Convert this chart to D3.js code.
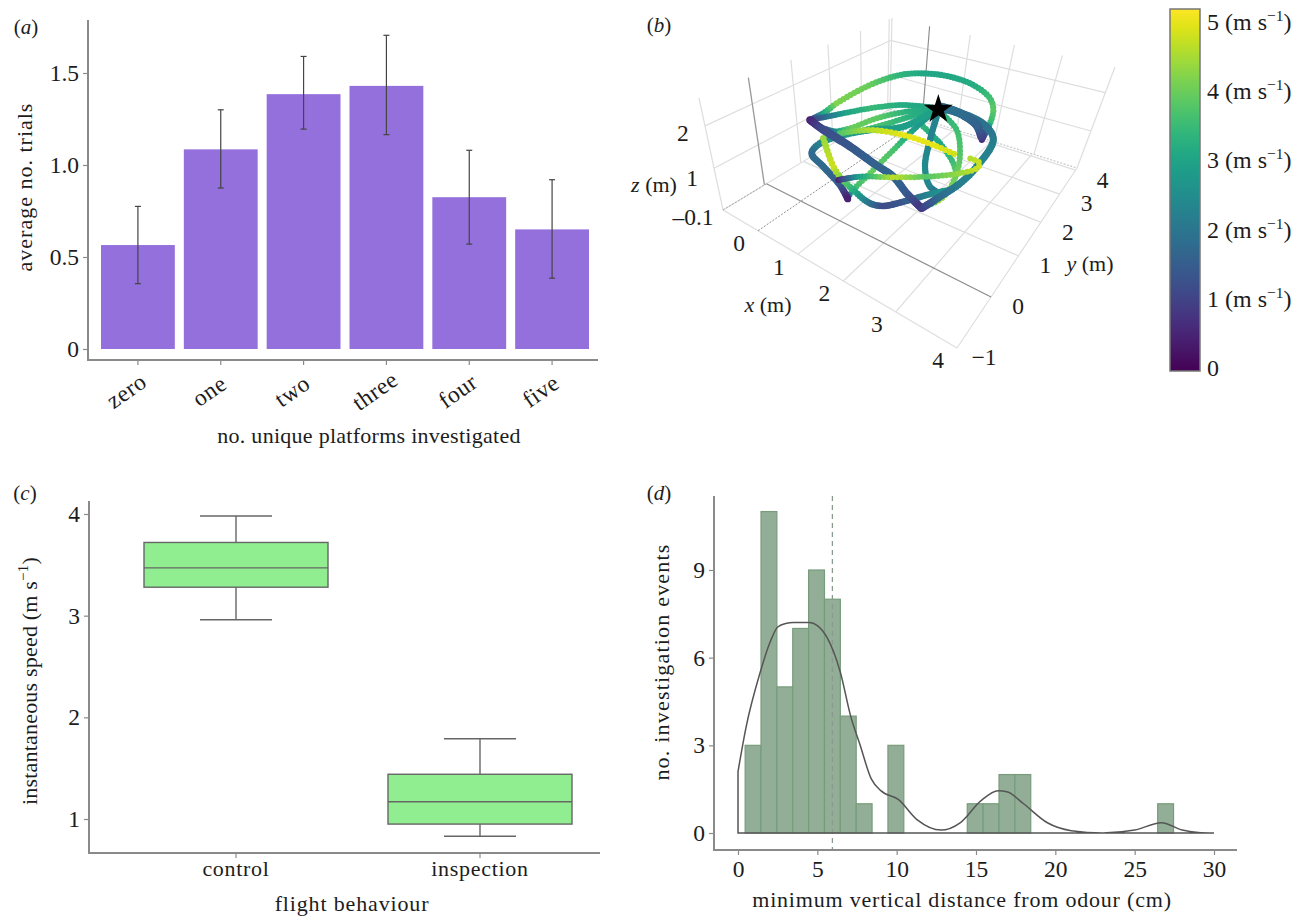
<!DOCTYPE html>
<html><head><meta charset="utf-8">
<script src="https://cdn.jsdelivr.net/npm/d3@7"></script>
<style>
html,body{margin:0;padding:0;background:#fff}
svg{display:block}
text{font-family:"Liberation Serif","Times New Roman",serif;fill:#1c1c1c}
</style></head><body>
<svg id="c" width="1296" height="916"></svg>
<script>
// ---------- data ----------
const platformCats = ["zero","one","two","three","four","five"];
const platformMeans = [0.565,1.085,1.385,1.43,0.825,0.65];
const platformLow = [0.355,0.875,1.195,1.165,0.57,0.385];
const platformHigh = [0.775,1.30,1.59,1.705,1.08,0.92];
const platformTicks = [0,0.5,1.0,1.5];

const flightCats = ["control","inspection"];
const boxQ1 = [3.28,0.95];
const boxMedian = [3.47,1.17];
const boxQ3 = [3.72,1.44];
const whiskLow = [2.96,0.83];
const whiskHigh = [3.98,1.79];
const flightTicks = [1,2,3,4];

const histStart = [0.45,1.45,2.45,3.45,4.45,5.45,6.45,7.45,9.45,14.45,15.45,16.45,17.45,26.45];
const histCounts = [3,11,5,7,9,8,4,1,3,1,1,2,2,1];
const histWidth = 1;
const kdeX = [0,0,0.5,1.4,2.0,2.5,3.0,3.5,4.5,5.0,5.6,6.45,7.1,7.7,8.4,9.0,10.1,11.3,12.8,14,15.3,16.4,17.0,18,19.5,21,23,25,26.7,28,29,30];
const kdeY = [0,2.1,3.6,5.5,6.5,7.05,7.17,7.2,7.2,7.1,6.7,5.5,4.0,3.0,1.85,1.45,1.15,0.45,0.1,0.35,1.1,1.45,1.4,1.0,0.35,0.08,0.0,0.1,0.35,0.1,0.02,0];
const meanDistance = 5.95;
const distTicksX = [0,5,10,15,20,25,30];
const distTicksY = [0,3,6,9];

const xTicks3d = [0,1,2,3,4];
const yTicks3d = [-1,0,1,2,3,4];
const zTicks3d = [-0.1,1,2];
const speedTicks = [0,1,2,3,4,5];

// trajectory strands in view-plane coordinates [u, v, speed]
const strandTop = [[1.5,1.8,.3],[1.9,1.6,3],[2.3,1.3,4.2],[3.3,.75,4.0],[4.2,.45,3.4],[4.9,.4,3.1],[5.7,.5,3.1],[6.4,.75,3.2],[6.9,1.15,3.6],[7.0,1.5,3.9],[6.9,1.9,3.5],[6.65,2.4,.6]];
const strandLeftA = [[5.35,1.45,3],[4.3,1.35,3.2],[3.3,1.45,3.5],[2.5,1.6,3],[1.5,1.8,1]];
const strandLeftB = [[5.35,1.45,3],[4.4,1.55,3.3],[3.5,1.75,3.9],[2.7,2.05,4],[2.0,2.2,2.5]];
const strandLeftC = [[5.35,1.45,3],[4.5,1.7,3.3],[3.5,2.0,3.7],[2.6,2.2,3.5],[1.9,2.05,1.5]];
const strandBlueA = [[1.5,1.8,.5],[1.9,2.1,1.2],[2.7,2.6,1.4],[3.4,3.1,1.6],[4.0,3.5,1.7],[4.4,4.0,1.5],[4.85,4.45,.8]];
const strandBlueB = [[1.8,2.0,1.3],[2.6,2.5,1.3],[3.3,3.0,1.4],[3.9,3.45,1.6]];
const strandRise = [[4.85,4.45,.9],[5.4,4.1,1.8],[6.0,3.7,2.2],[6.5,3.2,2.4],[7.0,2.4,2.2],[6.8,2.0,2.0],[6.2,1.65,1.9],[5.35,1.45,2]];
const strandThick = [[6.65,2.3,1.0],[6.5,1.95,1.6],[6.0,1.6,1.8],[5.4,1.4,2.0]];
const strandCorner = [[5.35,1.45,3],[4.3,2.0,2.9],[3.3,2.1,2.8],[2.5,2.25,2.8],[1.8,2.5,2.4],[1.55,2.8,1.8],[1.9,3.2,1.8],[2.4,3.75,1.5],[2.65,4.2,.4]];
const strandYellow = [[2.4,2.2,3.8],[3.3,2.1,4.6],[4.3,2.25,5],[5.2,2.55,5],[5.9,2.85,4.8]];
const strandBottom = [[1.9,2.35,4.4],[2.2,3.2,4.8],[2.4,3.5,4.3],[2.85,3.95,3.2],[3.3,4.3,2.0],[3.7,4.38,1.2],[4.3,4.25,1.4],[5.2,4.0,2.5],[5.7,3.9,2.8]];
const strandLower = [[2.35,3.6,.5],[3.0,3.5,3],[4.0,3.52,4.7],[5.0,3.5,3.8],[6.0,3.4,4.4],[6.5,3.25,4.8],[6.6,3.1,4.8],[6.3,2.95,4.6]];
const strandDiag = [[5.35,1.45,2.5],[4.7,2.0,2.8],[4.0,2.7,3.7],[3.3,3.4,4],[2.75,3.95,3.5],[2.6,4.2,.5]];
const strandDown = [[5.3,1.7,2.3],[5.1,2.4,2.3],[4.95,3.2,2.5],[5.1,3.8,2.4],[5.5,4.05,1.4]];
const strandRight = [[5.45,1.6,3.3],[5.9,2.1,3.6],[6.0,2.8,3.8],[5.9,3.4,4.0],[5.6,4.0,4.2],[5.3,4.25,4.5],[4.9,4.4,1]];
const strandInner = [[4.9,2.0,3.4],[5.4,2.5,3.1],[5.8,3.1,3.6],[5.9,3.5,4]];
const starPoint = [5.35,1.45];
const strands = [strandInner,strandRight,strandDiag,strandDown,strandTop,strandLeftA,strandLeftB,strandLeftC,strandCorner,strandBottom,strandYellow,strandBlueB,strandBlueA,strandRise,strandThick,strandLower];
const strandDotRadius = [3,3,3,3.2,3.1,3,3,3,3.4,3.3,3.1,3.2,3.8,3.6,4.4,3];

// ---------- helpers ----------
const svg = d3.select("#c");
const AXIS = "#8a8a8a";
const TICK = 23.5, TITLE = 22;
function label(x,y,t,opts={}){
  const e = svg.append("text").attr("x",x).attr("y",y).attr("font-size",opts.size||TITLE)
    .attr("text-anchor",opts.anchor||"middle").attr("dominant-baseline","middle")
    .attr("font-style",opts.italic?"italic":null).text(t);
  if(opts.spacing) e.attr("letter-spacing",opts.spacing);
  if(opts.rotate!=null) e.attr("transform",`rotate(${opts.rotate} ${x} ${y})`);
  return e;
}
function panel(x,y,l){
  const t = svg.append("text").attr("x",x).attr("y",y).attr("font-size",21).attr("text-anchor","middle").attr("dominant-baseline","middle");
  t.append("tspan").text("(");
  t.append("tspan").attr("font-style","italic").text(l);
  t.append("tspan").text(")");
}
function axisStyle(g){
  g.selectAll(".tick line").attr("stroke",AXIS).attr("stroke-width",1.2);
  g.selectAll(".tick text").attr("font-size",TICK).attr("font-family",'"Liberation Serif",serif').attr("fill","#1c1c1c");
  g.select(".domain").remove();
}

// ---------- panel a ----------
{
  const x = d3.scaleBand().domain(platformCats).range([101,589]).paddingInner(0.1087).paddingOuter(0);
  const y = d3.scaleLinear().domain([0,1.5]).range([349,73]);
  const bottom = 360;
  svg.selectAll(".bar").data(platformCats).join("rect")
    .attr("x",d=>x(d)).attr("width",x.bandwidth())
    .attr("y",(d,i)=>y(platformMeans[i])).attr("height",(d,i)=>y(0)-y(platformMeans[i]))
    .attr("fill","#9370db");
  platformCats.forEach((d,i)=>{
    const c=x(d)+x.bandwidth()/2;
    svg.append("line").attr("x1",c).attr("x2",c).attr("y1",y(platformLow[i])).attr("y2",y(platformHigh[i])).attr("stroke","#444").attr("stroke-width",1.2);
    [platformLow[i],platformHigh[i]].forEach(v=>svg.append("line").attr("x1",c-3).attr("x2",c+3).attr("y1",y(v)).attr("y2",y(v)).attr("stroke","#444").attr("stroke-width",1.2));
  });
  const gy = svg.append("g").attr("transform","translate(88,0)").call(d3.axisLeft(y).tickValues(platformTicks).tickFormat(d=>d===0?"0":d3.format(".1f")(d)).tickSize(5).tickPadding(4));
  axisStyle(gy);
  svg.append("line").attr("x1",88).attr("x2",88).attr("y1",20).attr("y2",bottom+1).attr("stroke",AXIS).attr("stroke-width",2);
  svg.append("line").attr("x1",87).attr("x2",598).attr("y1",bottom).attr("y2",bottom).attr("stroke",AXIS).attr("stroke-width",2);
  platformCats.forEach(c=>{
    const cx = x(c)+x.bandwidth()/2;
    svg.append("line").attr("x1",cx).attr("x2",cx).attr("y1",bottom).attr("y2",bottom+5).attr("stroke",AXIS).attr("stroke-width",1.2);
    label(cx-10,393,c,{rotate:-35,size:23.5,spacing:0.5});
  });
  label(369,438,"no. unique platforms investigated",{spacing:0.27});
  label(27,187,"average no. trials",{rotate:-90,spacing:1});
  panel(26,29,"a");
}

// ---------- panel c ----------
{
  const x = d3.scaleBand().domain(flightCats).range([114,602]);
  const y = d3.scaleLinear().domain([1,4]).range([819,514]);
  const bottom = 853;
  const bw = 184;
  flightCats.forEach((c,i)=>{
    const cx = x(c)+x.bandwidth()/2;
    svg.append("line").attr("x1",cx).attr("x2",cx).attr("y1",y(whiskLow[i])).attr("y2",y(whiskHigh[i])).attr("stroke","#666").attr("stroke-width",1.4);
    [whiskLow[i],whiskHigh[i]].forEach(v=>svg.append("line").attr("x1",cx-36).attr("x2",cx+36).attr("y1",y(v)).attr("y2",y(v)).attr("stroke","#666").attr("stroke-width",1.4));
    svg.append("rect").attr("x",cx-bw/2).attr("width",bw).attr("y",y(boxQ3[i])).attr("height",y(boxQ1[i])-y(boxQ3[i])).attr("fill","#90ee90").attr("stroke","#666").attr("stroke-width",1.4);
    svg.append("line").attr("x1",cx-bw/2).attr("x2",cx+bw/2).attr("y1",y(boxMedian[i])).attr("y2",y(boxMedian[i])).attr("stroke","#666").attr("stroke-width",1.4);
    svg.append("line").attr("x1",cx).attr("x2",cx).attr("y1",bottom).attr("y2",bottom+5).attr("stroke",AXIS).attr("stroke-width",1.2);
    label(cx,871,c,{spacing:0.7,size:22});
  });
  const gy = svg.append("g").attr("transform","translate(89,0)").call(d3.axisLeft(y).tickValues(flightTicks).tickFormat(d3.format("d")).tickSize(5).tickPadding(4));
  axisStyle(gy);
  svg.append("line").attr("x1",89).attr("x2",89).attr("y1",501).attr("y2",bottom+1).attr("stroke",AXIS).attr("stroke-width",2);
  svg.append("line").attr("x1",88).attr("x2",600).attr("y1",bottom).attr("y2",bottom).attr("stroke",AXIS).attr("stroke-width",2);
  label(352,906,"flight behaviour",{spacing:0.85});
  const t = label(32,681,"",{rotate:-90});
  t.attr("letter-spacing",0.2);
  t.append("tspan").text("instantaneous speed (m s");
  t.append("tspan").attr("font-size",15).attr("dy",-7).text("−1");
  t.append("tspan").attr("dy",7).text(")");
  panel(25,495,"c");
}

// ---------- panel d ----------
{
  const x = d3.scaleLinear().domain([0,30]).range([738,1214]);
  const y = d3.scaleLinear().domain([0,9]).range([833,570]);
  const bottom = 850;
  svg.selectAll(".hist").data(histStart).join("rect")
    .attr("x",d=>x(d)).attr("width",x(histWidth)-x(0))
    .attr("y",(d,i)=>y(histCounts[i])).attr("height",(d,i)=>y(0)-y(histCounts[i]))
    .attr("fill","#93ae96").attr("stroke","#779c7c").attr("stroke-width",1.2);
  svg.append("line").attr("x1",x(meanDistance)).attr("x2",x(meanDistance)).attr("y1",496).attr("y2",bottom)
    .attr("stroke","#8a9a8c").attr("stroke-width",1.3).attr("stroke-dasharray","5 4");
  const smooth = d3.line().x(d=>x(d[0])).y(d=>y(d[1])).curve(d3.curveMonotoneX);
  const pts = kdeX.slice(1).map((v,i)=>[v,kdeY[i+1]]);
  svg.append("path").attr("d",`M${x(30)},${y(0)}L${x(0)},${y(0)}`+smooth(pts).replace(/^M/,"L")).attr("fill","none").attr("stroke","#555").attr("stroke-width",1.5);
  const gy = svg.append("g").attr("transform","translate(714,0)").call(d3.axisLeft(y).tickValues(distTicksY).tickFormat(d3.format("d")).tickSize(5).tickPadding(4));
  axisStyle(gy);
  const gx = svg.append("g").attr("transform",`translate(0,${bottom})`).call(d3.axisBottom(x).tickValues(distTicksX).tickFormat(d3.format("d")).tickSize(5).tickPadding(5));
  axisStyle(gx);
  svg.append("line").attr("x1",714).attr("x2",714).attr("y1",496).attr("y2",bottom+1).attr("stroke",AXIS).attr("stroke-width",2);
  svg.append("line").attr("x1",713).attr("x2",1237).attr("y1",bottom).attr("y2",bottom).attr("stroke",AXIS).attr("stroke-width",2);
  label(962,902,"minimum vertical distance from odour (cm)",{spacing:0.8});
  label(664,662,"no. investigation events",{rotate:-90,spacing:1.2});
  panel(659,495,"d");
}

// ---------- panel b ----------
{
  function quad(p00,p10,p11,p01){
    const [x0,y0]=p00,[x1,y1]=p10,[x2,y2]=p11,[x3,y3]=p01;
    const dx1=x1-x2,dx2=x3-x2,sx=x0-x1+x2-x3,dy1=y1-y2,dy2=y3-y2,sy=y0-y1+y2-y3;
    const det=dx1*dy2-dx2*dy1;
    const g=(sx*dy2-dx2*sy)/det,h=(dx1*sy-sx*dy1)/det;
    const a=x1-x0+g*x1,b=x3-x0+h*x3,d=y1-y0+g*y1,e=y3-y0+h*y3;
    return (u,v)=>{const w=g*u+h*v+1;return [(a*u+b*v+x0)/w,(d*u+e*v+y0)/w];};
  }
  const A=[723,210],B=[957,348],C=[1077,168],D=[890,109],At=[699,98],Dt=[892,18],Ct=[1115,67];
  const fx = d3.scaleLinear().domain([-1,4]).range([0,1]);
  const fy = d3.scaleLinear().domain([-1,4.1]).range([0,1]);
  const fz = d3.scaleLinear().domain([-0.1,2.6]).range([0,1]);
  const floor = quad(A,B,C,D);
  const leftWall = quad(A,D,Dt,At);   // u along y, v along z
  const rightWall = quad(D,C,Ct,Dt);  // u along x, v along z
  const grid = svg.append("g");
  const seg=(a,b,col,w,dash)=>grid.append("line").attr("x1",a[0]).attr("y1",a[1]).attr("x2",b[0]).attr("y2",b[1]).attr("stroke",col).attr("stroke-width",w).attr("stroke-dasharray",dash||null);
  const LIGHT="#dedede";
  seg(A,B,LIGHT,1.2);seg(B,C,LIGHT,1.2);seg(C,Ct,LIGHT,1.2);seg(At,A,LIGHT,1.2);seg(D,Dt,LIGHT,1.2);seg(A,D,LIGHT,1.2);
  seg(D,C,"#c4c4c4",1.1,"2 1.5");
  xTicks3d.slice(1,-1).forEach(t=>seg(floor(fx(t),0),floor(fx(t),1),LIGHT,1.2));
  yTicks3d.slice(2).forEach(t=>seg(floor(0,fy(t)),floor(1,fy(t)),LIGHT,1.2));
  yTicks3d.slice(2).forEach(t=>seg(leftWall(fy(t),0),leftWall(fy(t),1),LIGHT,1.2));
  xTicks3d.slice(1,-1).forEach(t=>seg(rightWall(fx(t),0),rightWall(fx(t),1),LIGHT,1.2));
  zTicks3d.slice(1).forEach(t=>{
    seg(leftWall(0,fz(t)),leftWall(1,fz(t)),LIGHT,1.2);
    seg(rightWall(0,fz(t)),rightWall(1,fz(t)),LIGHT,1.2);
  });
  seg(floor(0,fy(0)),floor(1,fy(0)),"#8c8c8c",1.2);
  seg(floor(fx(0),0),floor(fx(0),1),"#8f8f8f",1,"2 1.5");
  seg(leftWall(fy(0),0),leftWall(fy(0),1),"#999",1.3);
  seg(rightWall(fx(0),0),rightWall(fx(0),1),"#888",1.1);
  seg(A,floor(0,fy(0)),"#aaa",1,"2 1.5");

  const u = d3.scaleLinear().domain([0,7.8]).range([760,1020]);
  const v = d3.scaleLinear().domain([0,5.1]).range([60,230]);
  const speed = d3.scaleSequential(d3.interpolateViridis).domain([0,5.2]);
  const curve = d3.line().x(d=>u(d[0])).y(d=>v(d[1])).curve(d3.curveCatmullRom.alpha(0.5));
  const traj = svg.append("g").style("filter","blur(0.55px)");
  strands.forEach((s,idx)=>{
    const p = svg.append("path").attr("d",curve(s)).attr("fill","none").node();
    const L = p.getTotalLength();
    const cum=[0];
    for(let i=1;i<s.length;i++)cum.push(cum[i-1]+Math.hypot(u(s[i][0])-u(s[i-1][0]),v(s[i][1])-v(s[i-1][1])));
    const sp = d3.scaleLinear().domain(cum.map(c=>c/cum[cum.length-1])).range(s.map(d=>d[2]));
    let l=0;
    while(l<=L){
      const q=p.getPointAtLength(l), val=sp(l/L);
      traj.append("circle").attr("cx",q.x).attr("cy",q.y).attr("r",strandDotRadius[idx]).attr("fill",speed(val));
      l+=0.8+val*0.8;
    }
    p.remove();
  });
  svg.append("path").attr("d",d3.symbol(d3.symbolStar,260)()).attr("transform",`translate(${u(starPoint[0])},${v(starPoint[1])+1})`).attr("fill","#000");

  xTicks3d.forEach(t=>{const p=floor(fx(t),0);label(p[0]-19,p[1]+15,String(t),{size:TICK})});
  yTicks3d.forEach(t=>{const p=floor(1,fy(t));label(p[0]+27,p[1]+12,t<0?"−"+(-t):String(t),{size:TICK})});
  zTicks3d.forEach(t=>{const p=leftWall(0,fz(t));label(p[0]-(t<0?30:22),p[1]+(t===1?12:10),t<0?"–0.1":String(t),{size:TICK})});
  const m=(x,y,l)=>{const e=svg.append("text").attr("x",x).attr("y",y).attr("font-size",TITLE).attr("text-anchor","middle").attr("dominant-baseline","middle");
    e.append("tspan").attr("font-style","italic").text(l);e.append("tspan").text(" (m)");};
  m(654,187,"z");m(768,307,"x");m(1090,266,"y");
  panel(659,27,"b");

  const defs = svg.append("defs");
  const grad = defs.append("linearGradient").attr("id","vir").attr("x1",0).attr("x2",0).attr("y1",1).attr("y2",0);
  d3.range(0,1.0001,0.05).forEach(t=>grad.append("stop").attr("offset",t).attr("stop-color",d3.interpolateViridis(t)));
  svg.append("rect").attr("x",1170).attr("y",9).attr("width",30).attr("height",362).attr("fill","url(#vir)").attr("stroke","#777").attr("stroke-width",1.5);
  const cb = d3.scaleLinear().domain([0,5]).range([370,24]);
  speedTicks.forEach(t=>{
    const e=svg.append("text").attr("x",1207).attr("y",cb(t)).attr("font-size",24).attr("dominant-baseline","middle");
    e.append("tspan").text(t);
    if(t>0){
      e.append("tspan").text(" (m s");
      e.append("tspan").attr("font-size",15.5).attr("dy",-7).text("−1");
      e.append("tspan").attr("dy",7).text(")");
    }
  });
}
</script></body></html>
